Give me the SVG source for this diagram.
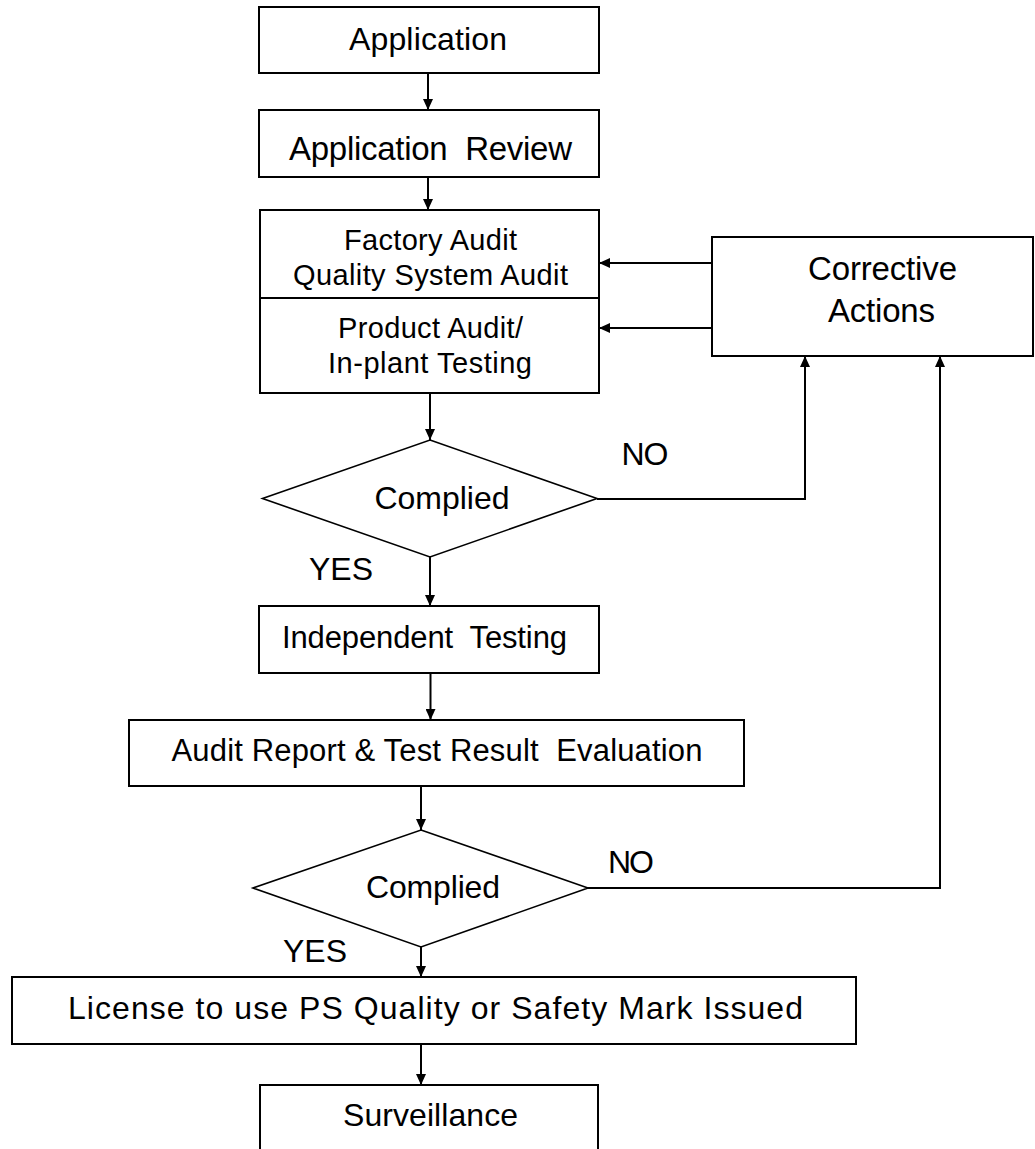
<svg xmlns="http://www.w3.org/2000/svg" width="1035" height="1149" viewBox="0 0 1035 1149">
<style>
.box{fill:#fff;stroke:#000;stroke-width:2}
.dia{fill:#fff;stroke:#000;stroke-width:1.6}
.ln{fill:none;stroke:#000;stroke-width:2}
.t{font-family:"Liberation Sans",Arial,sans-serif;fill:#000;text-anchor:middle}
.ws{white-space:pre}
</style>
<defs>
<marker id="ah" markerUnits="userSpaceOnUse" markerWidth="11" markerHeight="10" viewBox="0 0 11 10" refX="11" refY="5" orient="auto">
<path d="M0,0 L11,5 L0,10 Z" fill="#000"/>
</marker>
</defs>
<rect width="1035" height="1149" fill="#fff"/>
<g id="connectors">
<line class="ln" x1="428" y1="73" x2="428" y2="110" marker-end="url(#ah)"/>
<line class="ln" x1="428" y1="177" x2="428" y2="210" marker-end="url(#ah)"/>
<line class="ln" x1="430" y1="393" x2="430" y2="440" marker-end="url(#ah)"/>
<line class="ln" x1="430" y1="557" x2="430" y2="606" marker-end="url(#ah)"/>
<line class="ln" x1="430.5" y1="673" x2="430.5" y2="720" marker-end="url(#ah)"/>
<line class="ln" x1="421" y1="786" x2="421" y2="830" marker-end="url(#ah)"/>
<line class="ln" x1="421" y1="947" x2="421" y2="977" marker-end="url(#ah)"/>
<line class="ln" x1="421" y1="1044" x2="421" y2="1085" marker-end="url(#ah)"/>
<line class="ln" x1="712" y1="263" x2="599" y2="263" marker-end="url(#ah)"/>
<line class="ln" x1="712" y1="328" x2="599" y2="328" marker-end="url(#ah)"/>
<polyline class="ln" points="597,499 805,499 805,356" marker-end="url(#ah)"/>
<polyline class="ln" points="588,888 940,888 940,356" marker-end="url(#ah)"/>
</g>
<g id="application">
<rect class="box" x="259" y="7" width="340" height="66"/>
<text class="t" x="428" y="50" font-size="32" textLength="158">Application</text>
</g>
<g id="application-review">
<rect class="box" x="259" y="110" width="340" height="67"/>
<text class="t ws" x="430.5" y="160" font-size="33" textLength="283" xml:space="preserve">Application  Review</text>
</g>
<g id="factory-audit">
<rect class="box" x="260" y="210" width="339" height="183"/>
<line class="ln" x1="260" y1="298" x2="599" y2="298"/>
<text class="t" x="430.5" y="250" font-size="29" textLength="173">Factory Audit</text>
<text class="t" x="430.5" y="285" font-size="29" textLength="275">Quality System Audit</text>
<text class="t" x="430.5" y="338" font-size="29" textLength="185">Product Audit/</text>
<text class="t" x="430" y="373" font-size="29" textLength="204">In-plant Testing</text>
</g>
<g id="corrective-actions">
<rect class="box" x="712" y="237" width="321" height="119"/>
<text class="t" x="882.5" y="280" font-size="33" textLength="149">Corrective</text>
<text class="t" x="881.5" y="322" font-size="33" textLength="107">Actions</text>
</g>
<g id="complied-1">
<polygon class="dia" points="430,440 597,498.5 430,557 262.5,498.5"/>
<text class="t" x="442" y="509" font-size="32" textLength="135">Complied</text>
</g>
<text class="t" x="645" y="465" font-size="32" textLength="47">NO</text>
<text class="t" x="341" y="580" font-size="32" textLength="64">YES</text>
<g id="independent-testing">
<rect class="box" x="259" y="606" width="340" height="67"/>
<text class="t ws" x="424.5" y="648" font-size="31" textLength="285" xml:space="preserve">Independent  Testing</text>
</g>
<g id="audit-report">
<rect class="box" x="129" y="720" width="615" height="66"/>
<text class="t ws" x="437" y="761" font-size="31" textLength="531" xml:space="preserve">Audit Report &amp; Test Result  Evaluation</text>
</g>
<g id="complied-2">
<polygon class="dia" points="421,830 588,888 421,947 253,888"/>
<text class="t" x="433" y="898" font-size="32" textLength="134">Complied</text>
</g>
<text class="t" x="631" y="873" font-size="32" textLength="46">NO</text>
<text class="t" x="315" y="962" font-size="32" textLength="64">YES</text>
<g id="license">
<rect class="box" x="12" y="977" width="844" height="67"/>
<text class="t" x="435.5" y="1019" font-size="32" textLength="735">License to use PS Quality or Safety Mark Issued</text>
</g>
<g id="surveillance">
<rect class="box" x="260" y="1085" width="338" height="80"/>
<text class="t" x="430.5" y="1126" font-size="32" textLength="175">Surveillance</text>
</g>
</svg>
